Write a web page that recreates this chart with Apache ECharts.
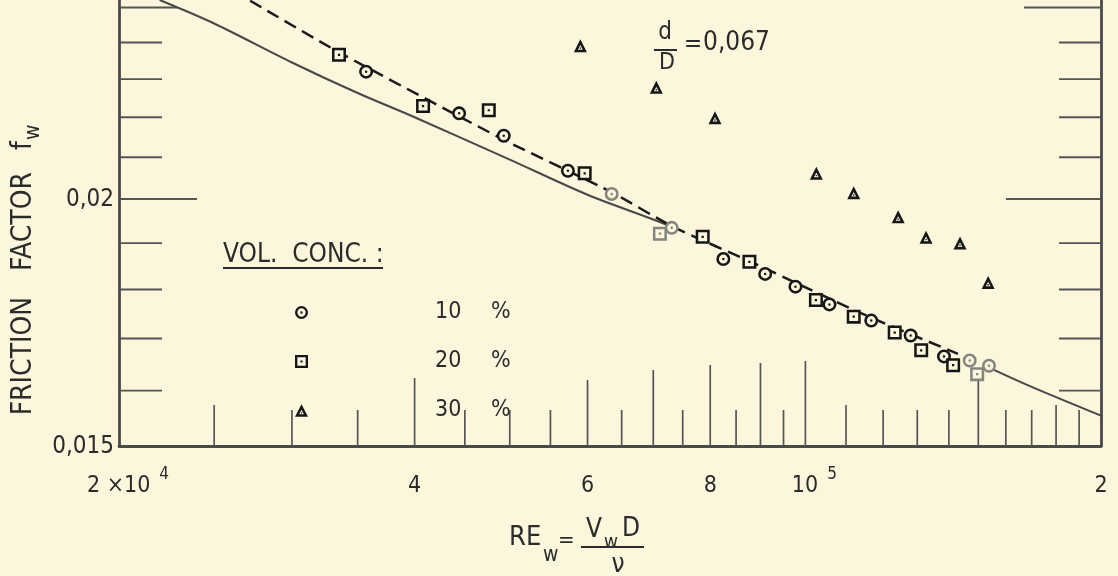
<!DOCTYPE html>
<html>
<head>
<meta charset="utf-8">
<script src="https://cdn.jsdelivr.net/npm/echarts@6/dist/echarts.min.js"></script>
<style>
  html, body { margin: 0; padding: 0; background: #fbf6dc; }
  #chart { width: 1118px; height: 576px; }
</style>
</head>
<body>
<div id="chart"></div>
<script>
// valores: Re_w (eje x, log) y f_w (eje y, log)
var conc10Re = [3.57e4, 4.44e4, 4.93e4, 5.73e4, 6.35e4, 7.31e4, 8.25e4, 9.10e4, 9.77e4, 1.058e5, 1.167e5, 1.280e5, 1.384e5, 1.470e5, 1.538e5];
var conc10F = [0.0232, 0.0221, 0.02153, 0.02067, 0.02012, 0.01934, 0.01865, 0.01833, 0.01806, 0.01769, 0.01736, 0.01706, 0.01665, 0.01657, 0.01647];

var conc20Re = [3.35e4, 4.08e4, 4.76e4, 5.96e4, 7.11e4, 7.86e4, 8.77e4, 1.025e5, 1.12e5, 1.233e5, 1.312e5, 1.414e5, 1.496e5];
var conc20F = [0.02366, 0.02229, 0.02218, 0.02061, 0.01921, 0.01914, 0.01859, 0.01778, 0.01744, 0.01712, 0.01677, 0.01648, 0.01631];

var conc30Re = [5.9e4, 7.05e4, 8.09e4, 1.026e5, 1.12e5, 1.243e5, 1.327e5, 1.437e5, 1.535e5];
var conc30F = [0.02391, 0.02278, 0.02199, 0.02061, 0.02015, 0.01959, 0.01913, 0.019, 0.01815];

// curva continua (agua limpia), en dos tramos
var cleanRe1 = [2.2e4, 2.5e4, 3e4, 3.5e4, 4e4, 5e4, 6e4, 7e4, 7.3e4];
var cleanF1 = [0.02522, 0.02454, 0.02345, 0.02263, 0.0220, 0.02094, 0.0201, 0.01953, 0.01937];
var cleanRe2 = [1.54e5, 1.7e5, 2e5];
var cleanF2 = [0.01643, 0.01607, 0.01554];

// linea a trazos por los puntos 10 % / 20 %
var dashRe = [2.72e4, 3.35e4, 4.94e4, 6.35e4, 7.31e4, 8.99e4, 1.136e5, 1.43e5];
var dashF = [0.0252, 0.02373, 0.02142, 0.02016, 0.01938, 0.0185, 0.01752, 0.0167];

// marcas de los ejes
var xTicks = [2.5e4, 3e4, 3.5e4, 4e4, 4.5e4, 5e4, 5.5e4, 6e4, 6.5e4, 7e4, 7.5e4, 8e4, 8.5e4, 9e4, 9.5e4, 1e5,
  1.1e5, 1.2e5, 1.3e5, 1.4e5, 1.5e5, 1.6e5, 1.7e5, 1.8e5, 1.9e5];
var xLabelValues = [2e4, 4e4, 6e4, 8e4, 1e5, 2e5];
var xLabelBase = ['2 ×10', '4', '6', '8', '10', '2'];
var xLabelExp = ['4', '', '', '', '5', ''];
var yTicks = [0.016, 0.017, 0.018, 0.019, 0.02, 0.021, 0.022, 0.023, 0.024, 0.025];
var yLabelValues = [0.015, 0.02];
var yLabels = ['0,015', '0,02'];

var legendNames = ['10 %', '20 %', '30 %'];
var faded10 = [4, 5, 13, 14];
var faded20 = [4, 12];

// ----- estilo -----
var FONT = '"DejaVu Sans Condensed", "Liberation Sans Narrow", "DejaVu Sans", sans-serif';
var INK = '#2b2b2b';
var MARK = '#161616';
var AXIS = '#4a4a4a';
var FADED = '#85857f';
var BG = '#fbf6dc';
var xMin = 2e4, xMax = 2e5, yMin = 0.015, yMax = 0.02522;

// largo de las marcas verticales (px)
var xTickLen = { 25000: 41, 40000: 68, 60000: 66, 70000: 76, 80000: 81, 90000: 83, 100000: 85, 110000: 41, 150000: 66, 180000: 41 };
var yTickLenLeft = { 0.02: 78, 0.025: 58 };
var yTickLenRight = { 0.02: 95, 0.025: 77 };

var symCircle = 'path://M0,10A10,10,0,1,1,20,10A10,10,0,1,1,0,10ZM3.6,10A6.4,6.4,0,1,0,16.4,10A6.4,6.4,0,1,0,3.6,10ZM8.2,10A1.8,1.8,0,1,1,11.8,10A1.8,1.8,0,1,1,8.2,10Z';
var symSquare = 'path://M0,0L20,0L20,20L0,20ZM3.6,3.6L3.6,16.4L16.4,16.4L16.4,3.6ZM8.4,8.4L11.6,8.4L11.6,11.6L8.4,11.6Z';
var symTriangle = 'path://M10,0L20,19L0,19ZM10,8.5L6.3,15.2L13.7,15.2ZM9,12L11,12L11,14L9,14Z';

function pairs(xs, ys) {
  return xs.map(function (x, i) { return [x, ys[i]]; });
}

function marks(xs, ys, faded) {
  return xs.map(function (x, i) {
    var d = { value: [x, ys[i]] };
    if (faded && faded.indexOf(i) >= 0) d.itemStyle = { color: FADED };
    return d;
  });
}

function renderXTick(params, api) {
  var v = api.value(0);
  var p = api.coord([v, yMin]);
  var len = xTickLen[v] || 36;
  return {
    type: 'line',
    shape: { x1: p[0], y1: p[1], x2: p[0], y2: p[1] - len },
    style: { stroke: '#555555', lineWidth: 1.7 }
  };
}

function renderYTick(params, api) {
  var v = api.value(1);
  var l = api.coord([xMin, v]);
  var r = api.coord([xMax, v]);
  var ll = yTickLenLeft[v] || 43;
  var lr = yTickLenRight[v] || 42;
  return {
    type: 'group',
    children: [
      { type: 'line', shape: { x1: l[0], y1: l[1], x2: l[0] + ll, y2: l[1] }, style: { stroke: '#555555', lineWidth: 1.9 } },
      { type: 'line', shape: { x1: r[0], y1: r[1], x2: r[0] - lr, y2: r[1] }, style: { stroke: '#555555', lineWidth: 1.9 } }
    ]
  };
}

var labelRich = {
  b: { fontSize: 23, fontFamily: FONT, fill: INK, color: INK },
  sup: { fontSize: 17, fontFamily: FONT, fill: INK, color: INK, padding: [0, 0, 22, 9] },
  pad: { width: 18 }
};

function renderXLabel(params, api) {
  var i = params.dataIndex;
  var p = api.coord([api.value(0), yMin]);
  var exp = xLabelExp[i];
  var txt = exp ? '{pad|}{b|' + xLabelBase[i] + '}{sup|' + exp + '}' : '{b|' + xLabelBase[i] + '}';
  return {
    type: 'text',
    x: p[0], y: p[1] + 40,
    style: { text: txt, align: 'center', verticalAlign: 'middle', rich: labelRich, fill: INK, font: '23px ' + FONT }
  };
}

function renderYLabel(params, api) {
  var i = params.dataIndex;
  var p = api.coord([xMin, api.value(1)]);
  return {
    type: 'text',
    x: p[0] - 5, y: p[1] + 1,
    style: { text: yLabels[i], align: 'right', verticalAlign: 'middle', fill: INK, font: '24px ' + FONT }
  };
}

function txt(x, y, s, size, align) {
  return {
    type: 'text', x: x, y: y,
    style: { text: s, font: size + 'px ' + FONT, fill: INK, align: align || 'left', textAlign: align || 'left', verticalAlign: 'middle', textVerticalAlign: 'middle' }
  };
}

var chart = echarts.init(document.getElementById('chart'));

chart.setOption({
  backgroundColor: BG,
  animation: false,
  grid: { left: 119, right: 17, top: 0, bottom: 130 },
  xAxis: {
    type: 'log', logBase: 10, min: xMin, max: xMax,
    axisLine: { show: true, lineStyle: { color: AXIS, width: 2.8 } },
    axisTick: { show: false }, axisLabel: { show: false }, splitLine: { show: false }
  },
  yAxis: [
    {
      type: 'log', logBase: 10, min: yMin, max: yMax, position: 'left',
      axisLine: { show: true, lineStyle: { color: AXIS, width: 2.8 } },
      axisTick: { show: false }, axisLabel: { show: false }, splitLine: { show: false }
    },
    {
      type: 'log', logBase: 10, min: yMin, max: yMax, position: 'right',
      axisLine: { show: true, lineStyle: { color: AXIS, width: 2.8 } },
      axisTick: { show: false }, axisLabel: { show: false }, splitLine: { show: false }
    }
  ],
  legend: {
    data: legendNames,
    orient: 'vertical',
    left: 290, top: 296,
    itemWidth: 13, itemHeight: 13, itemGap: 26,
    selectedMode: false,
    formatter: function (name) {
      var s = name.split(' ');
      return '{g|}{n|' + s[0] + '}{p|' + s[1] + '}';
    },
    textStyle: {
      color: INK, lineHeight: 20,
      rich: {
        g: { width: 122 },
        n: { width: 56, fontSize: 23, fontFamily: FONT, color: INK },
        p: { fontSize: 23, fontFamily: FONT, color: INK }
      }
    }
  },
  series: [
    { type: 'custom', name: 'xticks', renderItem: renderXTick, data: xTicks.map(function (v) { return [v, yMin]; }), encode: { x: 0, y: 1 }, clip: false, silent: true, z: 1 },
    { type: 'custom', name: 'yticks', renderItem: renderYTick, data: yTicks.map(function (v) { return [xMin, v]; }), encode: { x: 0, y: 1 }, clip: false, silent: true, z: 1 },
    { type: 'custom', name: 'xlabels', renderItem: renderXLabel, data: xLabelValues.map(function (v) { return [v, yMin]; }), encode: { x: 0, y: 1 }, clip: false, silent: true, z: 1 },
    { type: 'custom', name: 'ylabels', renderItem: renderYLabel, data: yLabelValues.map(function (v) { return [xMin, v]; }), encode: { x: 0, y: 1 }, clip: false, silent: true, z: 1 },

    { type: 'line', name: 'clean1', data: pairs(cleanRe1, cleanF1), symbol: 'none', smooth: 0.3, silent: true, z: 2,
      lineStyle: { color: '#484848', width: 2.1 } },
    { type: 'line', name: 'clean2', data: pairs(cleanRe2, cleanF2), symbol: 'none', smooth: 0.3, silent: true, z: 2,
      lineStyle: { color: '#484848', width: 2.1 } },
    { type: 'line', name: 'dashed', data: pairs(dashRe, dashF), symbol: 'none', smooth: 0.2, silent: true, z: 2,
      lineStyle: { color: '#1a1a1a', width: 2.5, type: [13, 7] } },

    { type: 'scatter', name: 'under10', data: pairs(conc10Re, conc10F), symbol: 'circle', symbolSize: 13, silent: true, z: 3,
      itemStyle: { color: BG, opacity: 1 } },
    { type: 'scatter', name: 'under20', data: pairs(conc20Re, conc20F), symbol: 'rect', symbolSize: 13, silent: true, z: 3,
      itemStyle: { color: BG, opacity: 1 } },

    { type: 'scatter', name: '10 %', data: marks(conc10Re, conc10F, faded10), symbol: symCircle, symbolSize: 14, silent: true, z: 4,
      itemStyle: { color: MARK, opacity: 1 } },
    { type: 'scatter', name: '20 %', data: marks(conc20Re, conc20F, faded20), symbol: symSquare, symbolSize: 14, silent: true, z: 4,
      itemStyle: { color: MARK, opacity: 1 } },
    { type: 'scatter', name: '30 %', data: marks(conc30Re, conc30F), symbol: symTriangle, symbolSize: [13, 13], silent: true, z: 4,
      itemStyle: { color: MARK, opacity: 1 } }
  ],
  graphic: [
    // leyenda: titulo subrayado
    txt(223, 255, 'VOL.  CONC. :', 26),
    { type: 'line', shape: { x1: 223, y1: 268, x2: 383, y2: 268 }, style: { stroke: INK, lineWidth: 2 } },

    // d / D = 0,067
    txt(665, 33, 'd', 24, 'center'),
    { type: 'line', shape: { x1: 654, y1: 50, x2: 677, y2: 50 }, style: { stroke: INK, lineWidth: 2 } },
    txt(667, 63, 'D', 23, 'center'),
    txt(684, 45, '=', 24),
    txt(703, 43, '0,067', 26),

    // titulo eje y
    {
      type: 'text', x: 24, y: 270, rotation: Math.PI / 2,
      style: {
        text: '{a|FRICTION}{g|}{a|FACTOR}{h|}{a|f}{s|w}',
        align: 'center', textAlign: 'center', verticalAlign: 'middle', textVerticalAlign: 'middle',
        rich: {
          a: { fontSize: 28, fontFamily: FONT, fill: INK, color: INK },
          g: { width: 26 },
          h: { width: 22 },
          s: { fontSize: 21, fontFamily: FONT, fill: INK, color: INK, padding: [19, 0, 0, 1] }
        }
      }
    },

    // titulo eje x: RE_w = V_w D / nu
    txt(509, 538, 'RE', 27),
    txt(543, 556, 'w', 21),
    txt(558, 541, '=', 22),
    txt(586, 530, 'V', 26),
    txt(604, 543, 'w', 19),
    txt(622, 529, 'D', 26),
    { type: 'line', shape: { x1: 581, y1: 547, x2: 644, y2: 547 }, style: { stroke: INK, lineWidth: 2 } },
    txt(618, 565, 'ν', 26, 'center')
  ]
});
</script>
</body>
</html>
